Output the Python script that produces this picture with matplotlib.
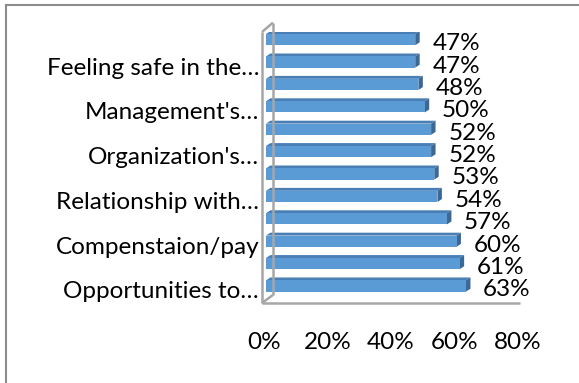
import matplotlib.pyplot as plt
import matplotlib.transforms as mtransforms
from matplotlib.patches import Polygon
from matplotlib.ticker import PercentFormatter

plt.rcParams['font.family'] = ['Lato', 'DejaVu Sans']

# bottom to top, as the bars are stacked
values = [63, 61, 60, 57, 54, 53, 52, 52, 50, 48, 47, 47]
labels = ['Opportunities to…', '', 'Compenstaion/pay', '', 'Relationship with…', '',
          "Organization's…", '', "Management's…", '', 'Feeling safe in the…', '']
x_ticks = [0, 20, 40, 60, 80]

front_col = '#5b9bd5'
top_col = '#4a7fb5'
side_col = '#3b6894'
wall_col = '#a6a6a6'
fs = 17.5

fig = plt.figure(figsize=(5.79, 3.83), dpi=100)
ax = fig.add_axes([266 / 579, (383 - 303) / 383, 254 / 579, 271 / 383])

# frame line on the top and left edge of the picture
fig.add_artist(plt.Line2D([6 / 579, 6 / 579], [0, 1 - 5 / 383], color='#8c8c8c', lw=1.5))
fig.add_artist(plt.Line2D([6 / 579, 1], [1 - 5 / 383, 1 - 5 / 383], color='#8c8c8c', lw=1.5))

ys = list(range(len(values)))
h = 0.5     # front face height
dx = 1.4    # depth in x (percent units)
dy = 0.13   # depth in y (category units)

for y, v in zip(ys, values):
    y0 = y - h / 2
    y1 = y + h / 2
    ax.add_patch(Polygon([(0, y1), (v, y1), (v + dx, y1 + dy), (dx, y1 + dy)],
                         closed=True, fc=top_col, ec='none'))
    ax.add_patch(Polygon([(v, y0), (v + dx, y0 + dy), (v + dx, y1 + dy), (v, y1)],
                         closed=True, fc=side_col, ec='none'))
    ax.barh(y, v, height=h, color=front_col, edgecolor='none')

# value labels, nudged down a few pixels
off = mtransforms.ScaledTranslation(0, -4 / 100, fig.dpi_scale_trans)
for y, v in zip(ys, values):
    ax.text(v + dx + 4.0, y, f'{v}%', transform=ax.transData + off,
            ha='left', va='center', fontsize=fs, color='black')

ax.set_xlim(0, 80)
ax.set_ylim(-0.76, 11.34)
for s in ax.spines.values():
    s.set_visible(False)

# side wall and floor edges
xf = -1.25
xb = 2.2
wall = dict(color=wall_col, lw=1.8, clip_on=False, solid_capstyle='butt')
ax.plot([xf, xf], [-0.76, 11.34], **wall)
ax.plot([xb, xb], [-0.40, 11.76], **wall)
ax.plot([xf, xb], [11.34, 11.76], **wall)
ax.plot([xf, xb], [-0.76, -0.40], **wall)
ax.plot([xf, 80], [-0.76, -0.76], **wall)

ax.set_xticks(x_ticks)
ax.xaxis.set_major_formatter(PercentFormatter(decimals=0))
ax.tick_params(axis='x', length=0, pad=21, labelsize=fs, labelcolor='black')
for t in ax.get_xticklabels():
    t.set_transform(t.get_transform() + mtransforms.ScaledTranslation(-2 / 100, 0, fig.dpi_scale_trans))

ax.set_yticks(ys)
ax.set_yticklabels(labels)
ax.tick_params(axis='y', length=0, pad=5, labelsize=fs, labelcolor='black')
for t in ax.get_yticklabels():
    t.set_transform(t.get_transform() + off)

fig.savefig('out.png', dpi=100)
